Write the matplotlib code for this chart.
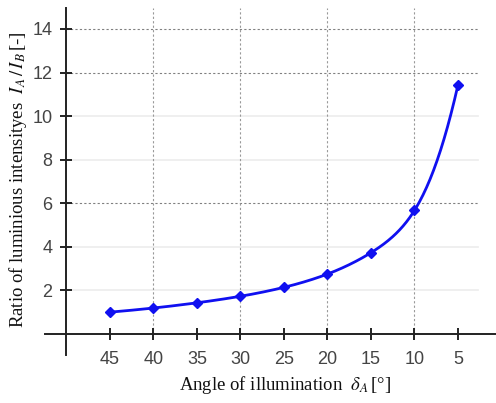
import numpy as np
import matplotlib
matplotlib.use("Agg")
import matplotlib.pyplot as plt

plt.rcParams["mathtext.fontset"] = "stix"

angles = [45, 40, 35, 30, 25, 20, 15, 10, 5]
ratios = [1.0, 1.19, 1.43, 1.73, 2.14, 2.75, 3.73, 5.67, 11.43]
yticks = [2, 4, 6, 8, 10, 12, 14]
xticks = [45, 40, 35, 30, 25, 20, 15, 10, 5]

tickfont = "Liberation Sans"
serif = "Liberation Serif"

def spline(x, y, n=400):
    x = np.asarray(x, float); y = np.asarray(y, float)
    order = np.argsort(x); x = x[order]; y = y[order]
    m = len(x); h = np.diff(x)
    A = np.zeros((m, m)); r = np.zeros(m)
    A[0, 0] = A[-1, -1] = 1
    for i in range(1, m - 1):
        A[i, i - 1] = h[i - 1]; A[i, i] = 2 * (h[i - 1] + h[i]); A[i, i + 1] = h[i]
        r[i] = 3 * ((y[i + 1] - y[i]) / h[i] - (y[i] - y[i - 1]) / h[i - 1])
    c = np.linalg.solve(A, r)
    b = (np.diff(y) / h) - h * (2 * c[:-1] + c[1:]) / 3
    d = np.diff(c) / (3 * h)
    xs = np.linspace(x[0], x[-1], n)
    idx = np.clip(np.searchsorted(x, xs) - 1, 0, m - 2)
    t = xs - x[idx]
    ys = y[idx] + b[idx] * t + c[idx] * t ** 2 + d[idx] * t ** 3
    return xs, ys

fig = plt.figure(figsize=(4.96, 4.03), dpi=100)
ax = fig.add_axes([0, 0, 1, 1])
ax.set_xlim(57.64, 0.63)
ax.set_ylim(-3.17, 15.33)
ax.patch.set_visible(False)

# grid
for v in [6, 12, 14]:
    ax.plot([50, 2.7], [v, v], ls=(0, (2, 2)), color="#808080", lw=0.8, zorder=1)
for v in [2, 4, 8, 10]:
    ax.plot([50, 2.7], [v, v], ls="-", color="#ececec", lw=1.2, zorder=1)
for v in [40, 30, 20, 10]:
    ax.plot([v, v], [0, 14.96], ls=(0, (2, 2)), color="#999999", lw=0.8, zorder=1)

# spines
for s in ["top", "right"]:
    ax.spines[s].set_visible(False)
ax.spines["left"].set_position(("data", 50))
ax.spines["bottom"].set_position(("data", 0))
ax.spines["left"].set_bounds(-0.96, 14.96)
ax.spines["bottom"].set_bounds(0.63, 52.47)
for s in ["left", "bottom"]:
    ax.spines[s].set_linewidth(1.4)
    ax.spines[s].set_color("#222222")

ax.set_xticks(xticks)
ax.set_xticklabels([str(v) for v in xticks], fontfamily=tickfont, fontsize=13, color="#444444")
ax.set_yticks(yticks)
ax.set_yticklabels([str(v) for v in yticks], fontfamily=tickfont, fontsize=13, color="#444444")
ax.tick_params(axis="both", direction="inout", length=8, width=1.4, color="#222222")
ax.tick_params(axis="x", pad=8)
ax.tick_params(axis="y", pad=6)

xs, ly = spline(angles, np.log(ratios))
ax.plot(xs, np.exp(ly), color="#1010f0", lw=2, zorder=3)
ax.plot(angles, ratios, ls="none", marker="D", ms=5, color="#1010f0", zorder=4)

fig.text(285 / 496, 1 - 385 / 403, r"Angle of illumination  $\delta_A\,$[°]",
         fontfamily=serif, fontsize=13.5, ha="center", va="center", color="#111111")
fig.text(18 / 496, 1 - 180 / 403, r"Ratio of luminious intensityes  $I_A\,/\,I_B\,$[-]",
         fontfamily=serif, fontsize=13.5, ha="center", va="center", rotation=90, color="#111111")

fig.savefig("out.png", dpi=100)
